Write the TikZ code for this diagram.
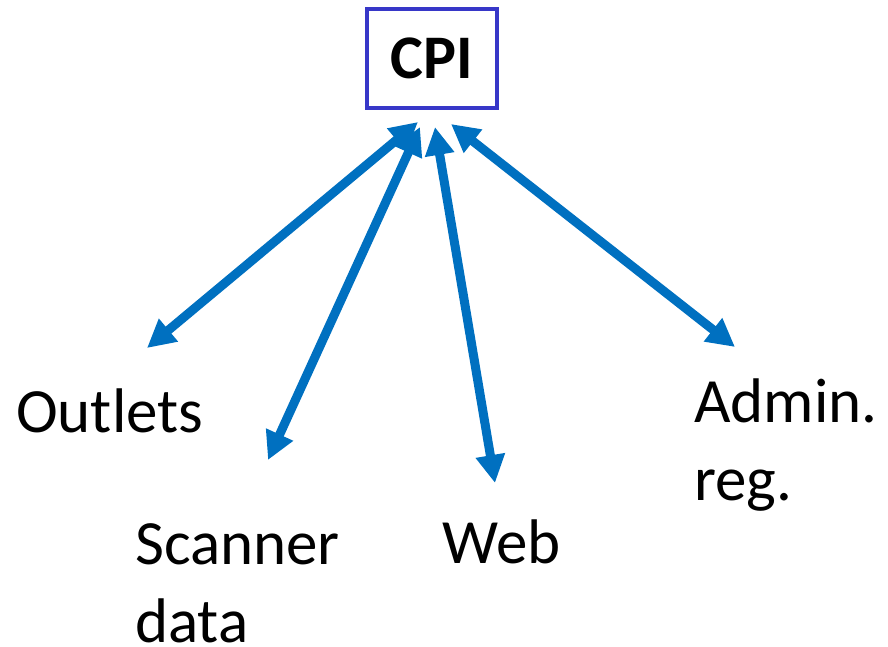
\documentclass[tikz,border=0pt]{standalone}
\usepackage{fontspec}
\setmainfont{Carlito}
\usetikzlibrary{arrows.meta}
\definecolor{arrowblue}{RGB}{0,112,192}
\definecolor{boxblue}{RGB}{55,55,200}
\tikzset{
  link/.style={draw=arrowblue, line width=9pt,
    {Triangle[length=28pt,width=28pt]}-{Triangle[length=28pt,width=28pt]}},
  label/.style={inner sep=0pt, anchor=base west, align=left,
    font=\fontsize{63}{77.5}\selectfont, text=black},
  cpibox/.style={draw=boxblue, line width=4pt, minimum width=130pt,
    minimum height=99pt, inner sep=0pt, font=\fontsize{62}{70}\selectfont\bfseries}
}
\begin{document}
\begin{tikzpicture}[x=1pt,y=-1pt]
  \useasboundingbox (0,0) rectangle (888,647);
  \node[cpibox] (cpi) at (432,58.5) {CPI};
  \node[label] (outlets) at (16,432) {Outlets};
  \node[label] (scanner) at (135,642) {Scanner\\data};
  \node[label] (web) at (442,563) {Web};
  \node[label] (admin) at (694,500) {Admin.\\reg.};
  \coordinate (o1) at (418,122);
  \coordinate (o2) at (147,348);
  \coordinate (s1) at (420,127);
  \coordinate (s2) at (268,460);
  \coordinate (w1) at (435,127);
  \coordinate (w2) at (495,483);
  \coordinate (a1) at (451,124);
  \coordinate (a2) at (735,347);
  \draw[link] (o1) -- (o2);
  \draw[link] (s1) -- (s2);
  \draw[link] (w1) -- (w2);
  \draw[link] (a1) -- (a2);
\end{tikzpicture}
\end{document}
